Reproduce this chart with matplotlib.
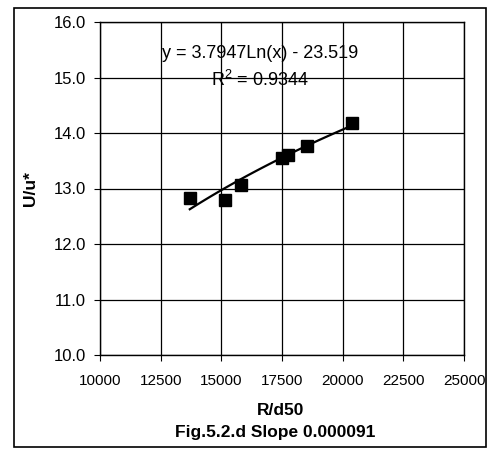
# Recreate Fig.5.2.d  U/u* vs R/d50 with log trendline
import matplotlib.pyplot as plt
import numpy as np
from matplotlib.patches import Rectangle

plt.rcParams['font.family'] = ['Liberation Sans', 'DejaVu Sans']

# Data
r_d50 = [13700, 15150, 15800, 17500, 17750, 18550, 20400]
u_ustar = [12.83, 12.80, 13.07, 13.55, 13.60, 13.77, 14.18]

# Trendline coefficients shown on the chart
coef_a = 3.7947
coef_b = -23.519
x_ticks = [10000, 12500, 15000, 17500, 20000, 22500, 25000]
y_ticks = [10.0, 11.0, 12.0, 13.0, 14.0, 15.0, 16.0]

fig = plt.figure(figsize=(4.88, 4.49), dpi=100)
ax = fig.add_axes([100 / 488, 1 - 355 / 449, 364 / 488, 333 / 449])

# Trendline from min x to max x
xs = np.linspace(min(r_d50), max(r_d50), 100)
ax.plot(xs, coef_a * np.log(xs) + coef_b, color='black', lw=1.6, zorder=3)

# Data points
ax.plot(r_d50, u_ustar, 's', color='black', ms=9, zorder=4)

ax.set_xlim(10000, 25000)
ax.set_ylim(10, 16)
ax.set_xticks(x_ticks)
ax.set_yticks(y_ticks)
ax.set_yticklabels(['%.1f' % v for v in y_ticks])
ax.grid(True, color='black', lw=0.9)
ax.tick_params(direction='out', length=4, colors='black')
ax.tick_params(axis='x', labelsize=11, pad=10)
ax.tick_params(axis='y', labelsize=12, pad=6)
for s in ax.spines.values():
    s.set_linewidth(1.0)

ax.set_ylabel('U/u*', fontsize=12.5, fontweight='bold')
ax.set_xlabel('R/d50', fontsize=12.5, fontweight='bold')
ax.yaxis.set_label_coords(-0.170, 0.50)
ax.xaxis.set_label_coords(0.495, -0.144)

# Equation text
ax.text(16580, 15.43, 'y = 3.7947Ln(x) - 23.519', ha='center', va='center', fontsize=13)
ax.text(16580, 14.95, '$\\mathregular{R^2}$ = 0.9344', ha='center', va='center', fontsize=13)

# Caption
fig.text(275 / 488, 1 - 433 / 449, 'Fig.5.2.d Slope 0.000091', ha='center', va='center',
         fontsize=12.5, fontweight='bold')

# Outer border
fig.patches.append(Rectangle((14 / 488, 1 - 447 / 449), 472 / 488, 439 / 449,
                             transform=fig.transFigure, fill=False, edgecolor='black', lw=1.2))

fig.savefig('out.png', dpi=100)
